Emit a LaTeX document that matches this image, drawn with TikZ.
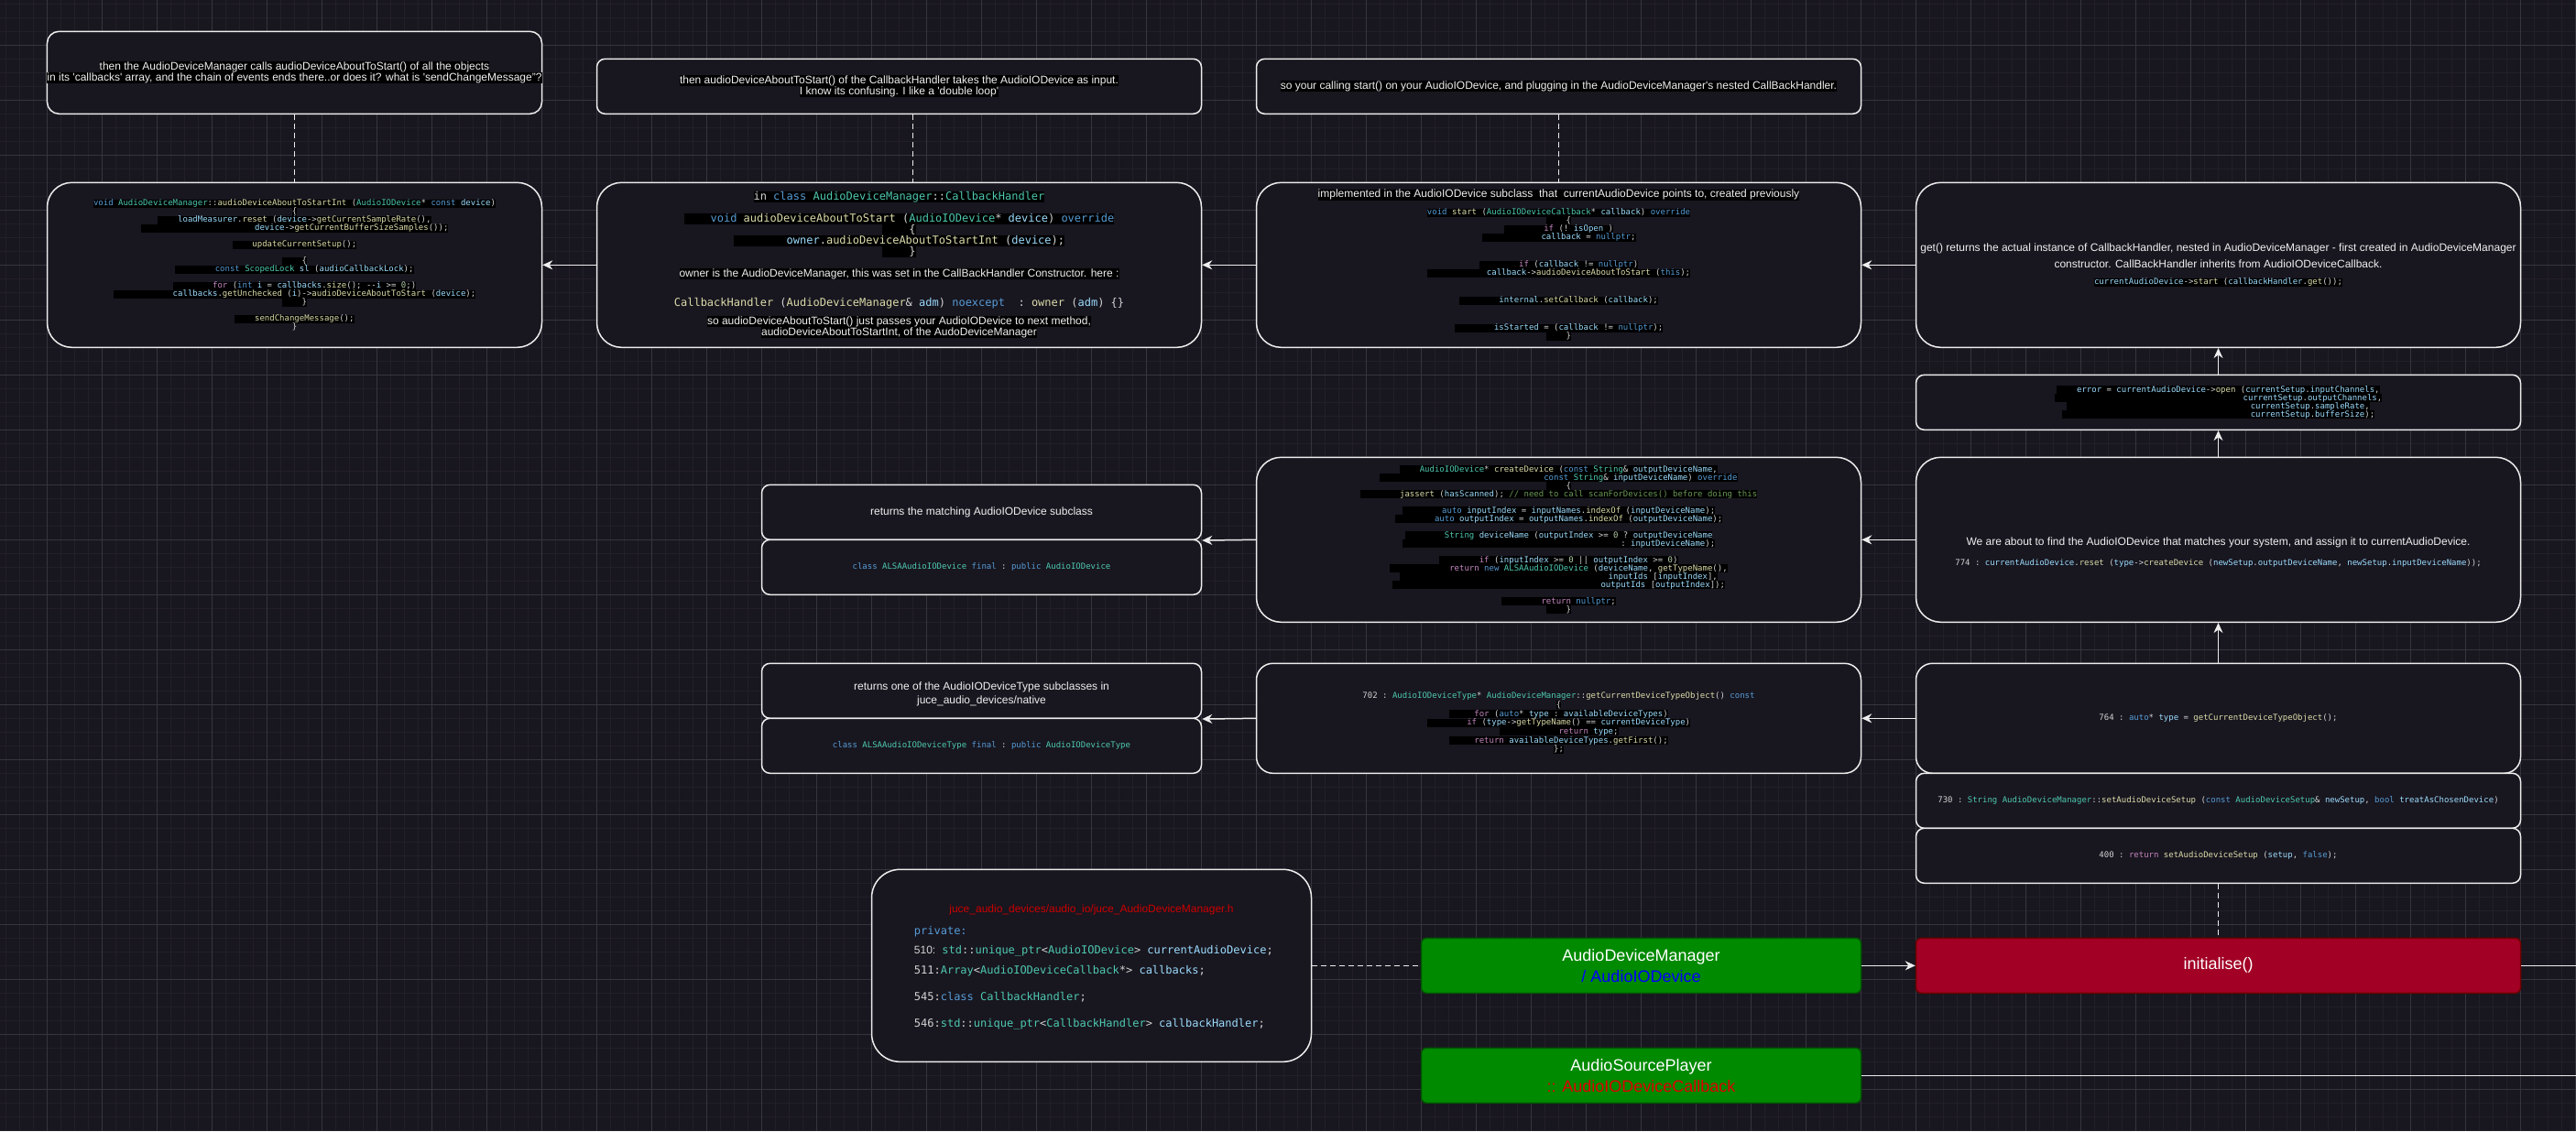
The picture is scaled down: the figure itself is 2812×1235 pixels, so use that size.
\documentclass[tikz,border=0pt]{standalone}
\usepackage{fontspec}
\setmainfont{Liberation Sans}
\setmonofont{DejaVu Sans Mono}
\usetikzlibrary{arrows.meta}
\definecolor{canvasbg}{HTML}{18161F}
\definecolor{gridminor}{HTML}{221F28}
\definecolor{gridmajor}{HTML}{36343C}
\definecolor{boxfill}{HTML}{18161F}
\definecolor{boxline}{HTML}{EDEDED}
\definecolor{txtwhite}{HTML}{F0F0F0}
\definecolor{codegray}{HTML}{D4D4D4}
\definecolor{codekw}{HTML}{569CD6}
\definecolor{codety}{HTML}{4EC9B0}
\definecolor{codefn}{HTML}{DCDCAA}
\definecolor{codevar}{HTML}{9CDCFE}
\definecolor{codectl}{HTML}{C586C0}
\definecolor{codecmt}{HTML}{6A9955}
\definecolor{codenum}{HTML}{B5CEA8}
\definecolor{admgreen}{HTML}{008A00}
\definecolor{admgreenborder}{HTML}{005700}
\definecolor{initred}{HTML}{A20025}
\definecolor{initredborder}{HTML}{6F0000}
\definecolor{pathred}{HTML}{CC0000}
\definecolor{ifaceblue}{HTML}{0000FF}
\definecolor{cbred}{HTML}{E00000}
\newcommand{\ckw}[1]{\textcolor{codekw}{#1}}
\newcommand{\cty}[1]{\textcolor{codety}{#1}}
\newcommand{\cfn}[1]{\textcolor{codefn}{#1}}
\newcommand{\cva}[1]{\textcolor{codevar}{#1}}
\newcommand{\cctl}[1]{\textcolor{codectl}{#1}}
\newcommand{\ccmt}[1]{\textcolor{codecmt}{#1}}
\newcommand{\cnum}[1]{\textcolor{codenum}{#1}}
\newcommand{\hlt}[1]{{\setlength{\fboxsep}{0pt}\colorbox{black}{\rule[-0.22em]{0pt}{1em}#1}}}
\newcommand{\indn}[1]{\hspace*{#1\fontcharwd\font`x}}

\begin{document}
\begin{tikzpicture}[x=1pt, y=-1pt,
    box/.style={draw=boxline, fill=boxfill, line width=1.5pt, rounded corners=#1, inner sep=0pt, align=center, text=txtwhite},
    box/.default=9,
    sans12/.style={font={\fontsize{12}{12}\selectfont\lineskiplimit=-50pt}},
    mono9/.style={font={\ttfamily\fontsize{9}{9}\selectfont\lineskiplimit=-50pt}, text=codegray},
    mono12/.style={font={\ttfamily\fontsize{12}{12}\selectfont\lineskiplimit=-50pt}, text=codegray},
    greenbox/.style={draw=admgreenborder, fill=admgreen, line width=1.5pt, rounded corners=6, minimum width=480, minimum height=60, align=center, text=white, font={\fontsize{18}{23}\selectfont}},
    redbox/.style={draw=initredborder, fill=initred, line width=1.5pt, rounded corners=6, minimum width=660, minimum height=60, align=center, text=white, font={\fontsize{18}{23}\selectfont}},
    conn/.style={draw=boxline, line width=1.5pt, -{Stealth[length=11pt, width=10pt]}},
    dashconn/.style={draw=boxline, line width=1.5pt, dash pattern=on 6pt off 4pt},
    wire/.style={draw=boxline, line width=1.5pt}]

  \useasboundingbox (0,0) rectangle (2812,1235);
  \fill[canvasbg] (0,0) rectangle (2812,1235);
  \foreach \gx in {6.5,21.5,...,2812} \draw[gridminor, line width=1pt] (\gx,0) -- (\gx,1235);
  \foreach \gy in {4.3,19.3,...,1235} \draw[gridminor, line width=1pt] (0,\gy) -- (2812,\gy);
  \foreach \gx in {51.5,111.5,...,2812} \draw[gridmajor, line width=1pt] (\gx,0) -- (\gx,1235);
  \foreach \gy in {49.3,109.3,...,1235} \draw[gridmajor, line width=1pt] (0,\gy) -- (2812,\gy);

  % top row: notes
  \node[box=13, sans12, minimum width=540, minimum height=90] (tltext) at (321.5,79.3)
    {\hlt{then the AudioDeviceManager calls audioDeviceAboutToStart() of all the objects}\\
     \hlt{in its \textquotesingle callbacks\textquotesingle{} array, and the chain of events ends there..or does it? what is \textquotesingle sendChangeMessage"?}};
  \node[box, sans12, minimum width=660, minimum height=60] (mtext) at (981.5,94.3)
    {\hlt{then audioDeviceAboutToStart() of the CallbackHandler takes the AudioIODevice as input.}\\
     \hlt{I know its confusing. I like a \textquotesingle double loop\textquotesingle}};
  \node[box, sans12, minimum width=660, minimum height=60] (rtext) at (1701.5,94.3)
    {\hlt{so your calling start() on your AudioIODevice, and plugging in the AudioDeviceManager\textquotesingle s nested CallBackHandler.}};

  % code row 1
  \node[box=27, mono9, minimum width=540, minimum height=180] (tlcode) at (321.5,289.3)
    {\hlt{\ckw{void} \cty{AudioDeviceManager}::\cfn{audioDeviceAboutToStartInt} (\cty{AudioIODevice}* \ckw{const} \cva{device})}\\
     \hlt{\{}\\
     \hlt{\indn{4}\cva{loadMeasurer}.\cfn{reset} (\cva{device}->\cfn{getCurrentSampleRate}(),}\\
     \hlt{\indn{23}\cva{device}->\cfn{getCurrentBufferSizeSamples}());}\\[9pt]
     \hlt{\indn{4}\cfn{updateCurrentSetup}();}\\[9pt]
     \hlt{\indn{4}\{}\\
     \hlt{\indn{8}\ckw{const} \cty{ScopedLock} \cva{sl} (\cva{audioCallbackLock});}\\[9pt]
     \hlt{\indn{8}\cctl{for} (\ckw{int} \cva{i} = \cva{callbacks}.\cfn{size}(); -{}-\cva{i} >= \cnum{0};)}\\
     \hlt{\indn{12}\cva{callbacks}.\cfn{getUnchecked} (\cva{i})->\cfn{audioDeviceAboutToStart} (\cva{device});}\\
     \hlt{\indn{4}\}}\\[9pt]
     \hlt{\indn{4}\cfn{sendChangeMessage}();}\\
     \}};
  \node[box=27, mono12, minimum width=660, minimum height=180] (mcode) at (981.5,289.3)
    {\hlt{in \ckw{class} \cty{AudioDeviceManager}::\cty{CallbackHandler}}\\[12pt]
     \hlt{\indn{4}\ckw{void} \cfn{audioDeviceAboutToStart} (\cty{AudioIODevice}* \cva{device}) \ckw{override}}\\
     \hlt{\indn{4}\{}\\
     \hlt{\indn{8}\cva{owner}.\cfn{audioDeviceAboutToStartInt} (\cva{device});}\\
     \hlt{\indn{4}\}}\\[12pt]
     {\rmfamily\color{txtwhite}\hlt{owner is the AudioDeviceManager, this was set in the CallBackHandler Constructor. here :}}\\[20pt]
     \cfn{CallbackHandler} (\cfn{AudioDeviceManager}\& \cva{adm}) \ckw{noexcept}\indn{2}: \cfn{owner} (\cva{adm}) \{\}\\[8pt]
     {\rmfamily\color{txtwhite}\hlt{so audioDeviceAboutToStart() just passes your AudioIODevice to next method,}}\\
     {\rmfamily\color{txtwhite}\hlt{audioDeviceAboutToStartInt, of the AudoDeviceManager}}};
  \node[box=27, mono9, minimum width=660, minimum height=180] (rcode) at (1701.5,289.3)
    {{\rmfamily\fontsize{12}{12}\selectfont\color{txtwhite}\hlt{implemented in the AudioIODevice subclass\ \ that\ \ currentAudioDevice points to, created previously}}\\[10pt]
     \hlt{\ckw{void} \cfn{start} (\cty{AudioIODeviceCallback}* \cva{callback}) \ckw{override}}\\
     \hlt{\indn{4}\{}\\
     \hlt{\indn{8}\cctl{if} (! \cva{isOpen} )}\\
     \hlt{\indn{12}\cva{callback} = \ckw{nullptr};}\\[21pt]
     \hlt{\indn{8}\cctl{if} (\cva{callback} != \ckw{nullptr})}\\
     \hlt{\indn{12}\cva{callback}->\cfn{audioDeviceAboutToStart} (\ckw{this});}\\[21pt]
     \hlt{\indn{8}\cva{internal}.\cfn{setCallback} (\cva{callback});}\\[21pt]
     \hlt{\indn{8}\cva{isStarted} = (\cva{callback} != \ckw{nullptr});}\\
     \hlt{\indn{4}\}}};
  \node[box=27, font={\fontsize{12}{18.3}\selectfont}, minimum width=660, minimum height=180] (frcode) at (2421.5,289.3)
    {get() returns the actual instance of CallbackHandler, nested in AudioDeviceManager - first created in AudioDeviceManager\\
     constructor. CallBackHandler inherits from AudioIODeviceCallback.\\
     {\ttfamily\fontsize{9}{9}\selectfont\color{codegray}\hlt{\cva{currentAudioDevice}->\cfn{start} (\cva{callbackHandler}.\cfn{get}());}}};

  \node[box, mono9, minimum width=660, minimum height=60] (openbox) at (2421.5,439.3)
    {\hlt{\indn{4}\cva{error} = \cva{currentAudioDevice}->\cfn{open} (\cva{currentSetup}.\cva{inputChannels},}\\
     \hlt{\indn{38}\cva{currentSetup}.\cva{outputChannels},}\\
     \hlt{\indn{37}\cva{currentSetup}.\cva{sampleRate},}\\
     \hlt{\indn{38}\cva{currentSetup}.\cva{bufferSize});}};

  % row 2
  \node[box=27, mono9, minimum width=660, minimum height=180] (cdcode) at (1701.5,589.3)
    {\hlt{\indn{4}\cty{AudioIODevice}* \cfn{createDevice} (\ckw{const} \cty{String}\& \cva{outputDeviceName},}\\
     \hlt{\indn{33}\ckw{const} \cty{String}\& \cva{inputDeviceName}) \ckw{override}}\\
     \hlt{\indn{4}\{}\\
     \hlt{\indn{8}\cfn{jassert} (\cva{hasScanned}); \ccmt{// need to call scanForDevices() before doing this}}\\[9pt]
     \hlt{\indn{8}\ckw{auto} \cva{inputIndex} = \cva{inputNames}.\cfn{indexOf} (\cva{inputDeviceName});}\\
     \hlt{\indn{8}\ckw{auto} \cva{outputIndex} = \cva{outputNames}.\cfn{indexOf} (\cva{outputDeviceName});}\\[9pt]
     \hlt{\indn{8}\cty{String} \cva{deviceName} (\cva{outputIndex} >= \cnum{0} ? \cva{outputDeviceName}}\\
     \hlt{\indn{44}: \cva{inputDeviceName});}\\[9pt]
     \hlt{\indn{8}\cctl{if} (\cva{inputIndex} >= \cnum{0} || \cva{outputIndex} >= \cnum{0})}\\
     \hlt{\indn{12}\cctl{return} \ckw{new} \cty{ALSAAudioIODevice} (\cva{deviceName}, \cfn{getTypeName}(),}\\
     \hlt{\indn{42}\cva{inputIds} [\cva{inputIndex}],}\\
     \hlt{\indn{42}\cva{outputIds} [\cva{outputIndex}]);}\\[9pt]
     \hlt{\indn{8}\cctl{return} \ckw{nullptr};}\\
     \hlt{\indn{4}\}}};
  \node[box=27, minimum width=660, minimum height=180] (frfind) at (2421.5,589.3) {};
  \node[align=center, inner sep=0pt, text=txtwhite, font={\fontsize{12}{22}\selectfont}] (findtxt) at ([yshift=-14pt]frfind.center)
    {We are about to find the AudioIODevice that matches your system, and assign it to currentAudioDevice.\\
     {\ttfamily\fontsize{9}{9}\selectfont\color{codegray}774 : \cva{currentAudioDevice}.\cfn{reset} (\cva{type}->\cfn{createDevice} (\cva{newSetup}.\cva{outputDeviceName}, \cva{newSetup}.\cva{inputDeviceName}));}};

  \node[box, sans12, minimum width=480, minimum height=60] (retdev) at (1071.5,559.3)
    {returns the matching AudioIODevice subclass};
  \node[box, mono9, minimum width=480, minimum height=60] (alsadev) at (1071.5,619.3)
    {\ckw{class} \cty{ALSAAudioIODevice} \ckw{final} : \ckw{public} \cty{AudioIODevice}};

  % row 3
  \node[box, minimum width=480, minimum height=60] (rettype) at (1071.5,754.3) {};
  \node[align=center, inner sep=0pt, text=txtwhite, font={\fontsize{12}{15}\selectfont}] (rettypetxt) at ([yshift=-4pt]rettype.center)
    {returns one of the AudioIODeviceType subclasses in\\juce\_audio\_devices/native};
  \node[box, mono9, minimum width=480, minimum height=60] (alsatype) at (1071.5,814.3)
    {\ckw{class} \cty{ALSAAudioIODeviceType} \ckw{final} : \ckw{public} \cty{AudioIODeviceType}};
  \node[box=18, minimum width=660, minimum height=120] (typecode) at (1701.5,784.3) {};
  \node[align=center, inner sep=0pt, text=codegray, font={\ttfamily\fontsize{9}{9.7}\selectfont\lineskiplimit=-50pt}] (typecodetxt) at ([yshift=-5pt]typecode.center)
    {702 : \cty{AudioIODeviceType}* \cty{AudioDeviceManager}::\cfn{getCurrentDeviceTypeObject}() \ckw{const}\\
     \hlt{\{}\\
     \hlt{\indn{5}\cctl{for} (\ckw{auto}* \cva{type} : \cva{availableDeviceTypes})}\\
     \hlt{\indn{8}\cctl{if} (\cva{type}->\cfn{getTypeName}() == \cva{currentDeviceType})}\\
     \hlt{\indn{12}\cctl{return} \cva{type};}\\
     \hlt{\indn{5}\cctl{return} \cva{availableDeviceTypes}.\cfn{getFirst}();}\\
     \hlt{\};}};
  \node[box=18, mono9, minimum width=660, minimum height=120] (typecall) at (2421.5,784.3)
    {764 : \ckw{auto}* \cva{type} = \cfn{getCurrentDeviceTypeObject}();};
  \node[box, mono9, minimum width=660, minimum height=60] (setupbox) at (2421.5,874.3)
    {730 : \cty{String} \cty{AudioDeviceManager}::\cfn{setAudioDeviceSetup} (\ckw{const} \cty{AudioDeviceSetup}\& \cva{newSetup}, \ckw{bool} \cva{treatAsChosenDevice})};
  \node[box, mono9, minimum width=660, minimum height=60] (setupcall) at (2421.5,934.3)
    {400 : \cctl{return} \cfn{setAudioDeviceSetup} (\cva{setup}, \ckw{false});};

  % bottom
  \node[box=31, minimum width=480, minimum height=210] (juce) at (1191.5,1054.3) {};
  \node[anchor=base, inner sep=0pt, text=pathred, font={\fontsize{12}{12}\selectfont}] (jucetitle) at (1191.5,996)
    {juce\_audio\_devices/audio\_io/juce\_AudioDeviceManager.h};
  \node[anchor=base west, inner sep=0pt, mono12] (jl0) at (997.7,1020) {\ckw{private:}};
  \node[anchor=base west, inner sep=0pt, mono12] (jl1) at (997.7,1041)
    {{\rmfamily 510:} \cty{std}::\cty{unique\_ptr}<\cty{AudioIODevice}> \cva{currentAudioDevice};};
  \node[anchor=base west, inner sep=0pt, mono12] (jl2) at (997.7,1063)
    {511:\cty{Array}<\cty{AudioIODeviceCallback}*> \cva{callbacks};};
  \node[anchor=base west, inner sep=0pt, mono12] (jl3) at (997.7,1092)
    {545:\ckw{class} \cty{CallbackHandler};};
  \node[anchor=base west, inner sep=0pt, mono12] (jl4) at (997.7,1121)
    {546:\cty{std}::\cty{unique\_ptr}<\cty{CallbackHandler}> \cva{callbackHandler};};

  \node[greenbox] (adm) at (1791.5,1054.3) {AudioDeviceManager\\\textcolor{ifaceblue}{/ AudioIODevice}};
  \node[redbox] (init) at (2421.5,1054.3) {initialise()};
  \node[greenbox] (asp) at (1791.5,1174.3) {AudioSourcePlayer\\\textcolor{cbred}{:: AudioIODeviceCallback}};
  \coordinate (initout) at (2812,1054.3);
  \coordinate (aspout) at (2812,1174.3);

  % connectors
  \draw[dashconn] (tltext) -- (tlcode);
  \draw[dashconn] ([xshift=15pt]mtext.south) -- ([xshift=15pt]mcode.north);
  \draw[dashconn] (rtext) -- (rcode);
  \draw[conn] (frcode) -- (rcode);
  \draw[conn] (rcode) -- (mcode);
  \draw[conn] (mcode) -- (tlcode);
  \draw[conn] (openbox) -- (frcode);
  \draw[conn] (frfind) -- (openbox);
  \draw[conn] (typecall) -- (frfind);
  \draw[conn] (frfind) -- (cdcode);
  \draw[conn] (cdcode.west) -- (retdev.south east);
  \draw[conn] (typecall) -- (typecode);
  \draw[conn] (typecode.west) -- (rettype.south east);
  \draw[dashconn] (setupcall) -- (init);
  \draw[dashconn] (juce) -- (adm);
  \draw[conn] (adm) -- (init);
  \draw[wire] (init) -- (initout);
  \draw[wire] (asp) -- (aspout);
\end{tikzpicture}
\end{document}
